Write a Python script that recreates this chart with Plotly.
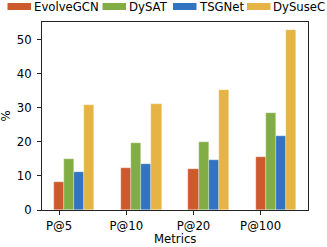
import plotly.graph_objects as go

categories = ["P@5", "P@10", "P@20", "P@100"]
series_names = ["EvolveGCN", "DySAT", "TSGNet", "DySuseC"]
evolvegcn = [8.3, 12.4, 12.0, 15.6]
dysat = [15.0, 19.5, 19.9, 28.5]
tsgnet = [11.1, 13.6, 14.8, 21.8]
dysusec = [30.8, 31.0, 35.1, 52.9]
colors = ["#CC5A2E", "#82AD45", "#3274BF", "#E6B444"]
x_title = "Metrics"
y_title = "%"

values = [evolvegcn, dysat, tsgnet, dysusec]
width = 0.15
FONT = "DejaVu Sans"
FS = 11.7
PW, PH, PL, PB = 266, 188, 42, 210  # plot area geometry (px)

fig = go.Figure()
for k, (name, vals, col) in enumerate(zip(series_names, values, colors)):
    fig.add_trace(go.Bar(
        x=[i + k * width for i in range(len(categories))],
        y=vals, width=width, name=name,
        marker=dict(color=col, line=dict(color="rgba(255,255,255,0.6)", width=0.5)),
        showlegend=False,
    ))

# manual legend (matplotlib-style wide swatches)
shapes = []
annotations = []
sw_x = [7.5, 102.5, 173, 247]
for k, (name, col) in enumerate(zip(series_names, colors)):
    shapes.append(dict(type="rect", xref="paper", yref="paper",
                       x0=(sw_x[k] - PL) / PW, x1=(sw_x[k] + 23.5 - PL) / PW,
                       y0=(PB - 3) / PH, y1=(PB - 10) / PH,
                       fillcolor=col, line=dict(width=0), layer="above"))
    annotations.append(dict(text=name, xref="paper", yref="paper",
                            x=(sw_x[k] + 24 - PL) / PW, y=(PB - 6.5) / PH,
                            xanchor="left", yanchor="middle", showarrow=False,
                            font=dict(family=FONT, size=FS, color="black")))

annotations.append(dict(text=x_title, xref="paper", yref="paper",
                        x=0.5, y=(PB - 239) / PH, xanchor="center", yanchor="middle",
                        showarrow=False, font=dict(family=FONT, size=FS, color="black")))
annotations.append(dict(text=y_title, xref="paper", yref="paper", textangle=-90,
                        x=(5.5 - PL) / PW, y=(PB - 116) / PH, xanchor="center", yanchor="middle",
                        showarrow=False, font=dict(family=FONT, size=FS, color="black")))

axis_common = dict(
    showgrid=False, zeroline=False, automargin=False,
    showline=True, linecolor="#222", linewidth=1, mirror=True,
    ticks="outside", ticklen=4, tickwidth=1, tickcolor="#222",
)

fig.update_layout(
    width=327, height=247,
    margin=dict(l=42, r=19, t=22, b=37),
    plot_bgcolor="white", paper_bgcolor="white",
    bargap=0, barmode="overlay",
    font=dict(family=FONT, size=FS, color="black"),
    shapes=shapes, annotations=annotations,
    xaxis=dict(
        tickvals=list(range(len(categories))), ticktext=categories,
        range=[-0.255, 3.705], ticklabelstandoff=1,
        **axis_common,
    ),
    yaxis=dict(
        range=[0, 55.1], tickvals=[0, 10, 20, 30, 40, 50], ticklabelstandoff=3,
        **axis_common,
    ),
)

fig.write_html("out.html", config={"displayModeBar": False},
               post_script="document.body.style.margin='0';")
